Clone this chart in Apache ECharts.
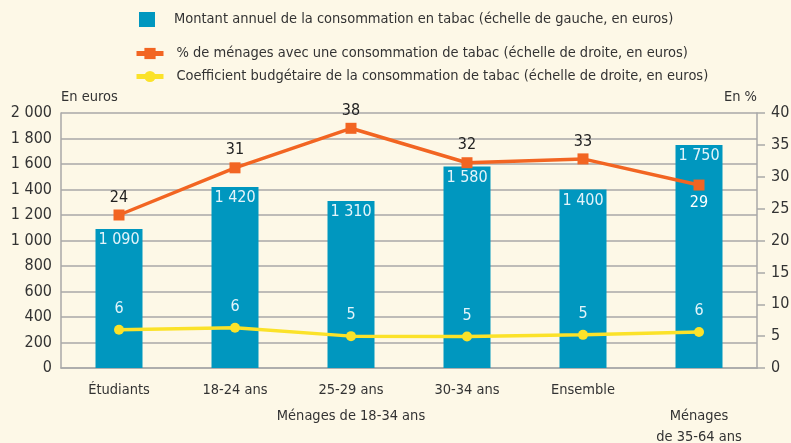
<!DOCTYPE html>
<html><head><meta charset="utf-8">
<script src="https://cdn.jsdelivr.net/npm/echarts@6/dist/echarts.min.js"></script>
<style>html,body{margin:0;padding:0;background:#fdf8e7}#c{width:791px;height:443px}</style>
</head><body><div id="c"></div>
<script>
const categories = ['Étudiants', '18-24 ans', '25-29 ans', '30-34 ans', 'Ensemble', ''];
const groupLabels = ['', '', 'Ménages de 18-34 ans', '', '', 'Ménages\nde 35-64 ans'];
const montant = [1090, 1420, 1310, 1580, 1400, 1750];
const pctMenages = [24, 31.4, 37.6, 32.2, 32.8, 28.7];
const pctLabels = ['24', '31', '38', '32', '33', '29'];
const coef = [6.0, 6.3, 5.0, 4.95, 5.2, 5.65];
const coefLabels = ['6', '6', '5', '5', '5', '6'];
const leftTicks = [0, 2000, 200];
const rightTicks = [0, 40, 5];
const names = [
  'Montant annuel de la consommation en tabac (échelle de gauche, en euros)',
  '% de ménages avec une consommation de tabac (échelle de droite, en euros)',
  'Coefficient budgétaire de la consommation de tabac (échelle de droite, en euros)'
];

const FONT = "'Liberation Sans Narrow', 'DejaVu Sans Condensed', 'Roboto', sans-serif";
const TXT = '#333333';
const GRID = '#a9a9a9';
const FS = 14.5;
const fmt = v => String(v).replace(/\B(?=(\d{3})+(?!\d))/g, ' ');

const chart = echarts.init(document.getElementById('c'));
chart.setOption({
  backgroundColor: '#fdf8e7',
  textStyle: { fontFamily: FONT },
  animation: false,
  legend: [
    { data: [{ name: names[0], icon: 'rect' }], left: 134, top: 7, orient: 'vertical', itemWidth: 16, itemHeight: 15,
      textStyle: { fontFamily: FONT, fontSize: FS, color: TXT, padding: [3, 0, 0, 14] } },
    { data: [names[1], names[2]], left: 129, top: 41, orient: 'vertical', itemWidth: 27, itemHeight: 14, itemGap: 8,
      lineStyle: { width: 5 },
      textStyle: { fontFamily: FONT, fontSize: FS, color: TXT, padding: [0, 0, 0, 8] } }
  ],
  grid: { left: 61, right: 34, top: 113, bottom: 75, containLabel: false, outerBoundsMode: 'none' },
  xAxis: [
    { type: 'category', data: categories,
      axisLine: { lineStyle: { color: GRID, width: 1.5 } },
      axisTick: { interval: 0, length: 19, lineStyle: { color: GRID, width: 1.5 } },
      axisLabel: { interval: 0, margin: 15, fontSize: FS, color: TXT, fontFamily: FONT } },
    { type: 'category', data: groupLabels, position: 'bottom',
      axisLine: { show: false },
      axisTick: { interval: (i) => i === 0 || i === 5, length: 39, lineStyle: { color: GRID, width: 1.5 } },
      axisLabel: { interval: 0, margin: 38, fontSize: FS, lineHeight: 21, color: TXT, fontFamily: FONT } }
  ],
  yAxis: [
    { type: 'value', min: leftTicks[0], max: leftTicks[1], interval: leftTicks[2],
      name: 'En euros', nameLocation: 'end', nameGap: 8,
      nameTextStyle: { align: 'left', fontSize: FS, color: TXT, fontFamily: FONT },
      axisLine: { show: true, lineStyle: { color: GRID, width: 1.5 } },
      axisTick: { show: false },
      splitLine: { lineStyle: { color: GRID, width: 1.5 } },
      axisLabel: { margin: 9, fontSize: 16, color: TXT, fontFamily: FONT, formatter: v => fmt(v) } },
    { type: 'value', min: rightTicks[0], max: rightTicks[1], interval: rightTicks[2], position: 'right',
      name: 'En %', nameLocation: 'end', nameGap: 8,
      nameTextStyle: { align: 'right', fontSize: FS, color: TXT, fontFamily: FONT },
      axisLine: { show: true, lineStyle: { color: GRID, width: 1.5 } },
      axisTick: { show: true, length: 8, lineStyle: { color: GRID, width: 1.5 } },
      splitLine: { show: false },
      axisLabel: { margin: 14, fontSize: 16, color: TXT, fontFamily: FONT } }
  ],
  series: [
    { name: names[0], type: 'bar', data: montant, barWidth: 47,
      itemStyle: { color: '#0097bf' },
      label: { show: true, position: 'insideTop', distance: 3, color: '#e3f4fa', fontSize: 16, fontFamily: FONT,
        formatter: p => fmt(p.value) } },
    { name: names[1], type: 'line', yAxisIndex: 1, z: 5,
      data: pctMenages.map((v, i) => i === 5 ? { value: v, label: { position: 'bottom', color: '#ffffff' } } : v),
      symbol: 'rect', symbolSize: 11, itemStyle: { color: '#f26522' }, lineStyle: { width: 3.5, color: '#f26522' },
      label: { show: true, position: 'top', distance: 4, color: '#222', fontSize: 16, fontFamily: FONT,
        formatter: p => pctLabels[p.dataIndex] } },
    { name: names[2], type: 'line', yAxisIndex: 1, z: 5,
      data: coef,
      symbol: 'circle', symbolSize: 10, itemStyle: { color: '#fbe229' }, lineStyle: { width: 3.5, color: '#fbe229' },
      label: { show: true, position: 'top', distance: 8, color: '#e3f4fa', fontSize: 16, fontFamily: FONT,
        formatter: p => coefLabels[p.dataIndex] } }
  ]
});
</script></body></html>
